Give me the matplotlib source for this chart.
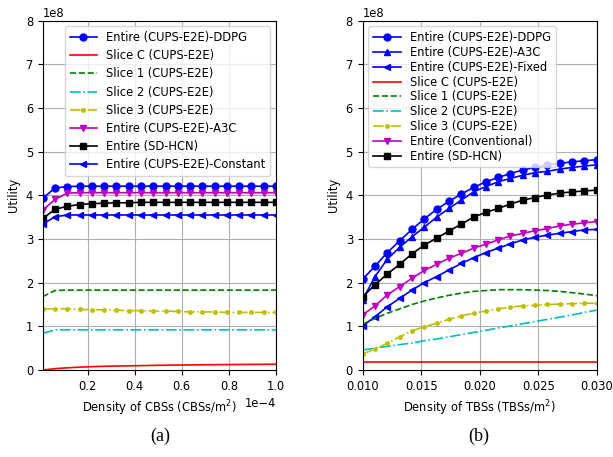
import matplotlib
matplotlib.use("Agg")
import matplotlib.pyplot as plt
import numpy as np

# ---- (a) utility vs. density of CBSs (values in 1e8) ----
cbs_density = np.linspace(1e-6, 1e-4, 20)
a_ddpg = [3.93, 4.17, 4.20, 4.21, 4.21, 4.21, 4.21, 4.21, 4.21, 4.21,
          4.21, 4.21, 4.21, 4.21, 4.21, 4.21, 4.21, 4.21, 4.21, 4.21]
a_slice_c = [0.0, 0.03, 0.05, 0.065, 0.075, 0.085, 0.09, 0.095, 0.10, 0.105,
             0.11, 0.113, 0.116, 0.119, 0.122, 0.124, 0.126, 0.128, 0.13, 0.132]
a_slice1 = [1.68, 1.82, 1.83, 1.83, 1.83, 1.83, 1.83, 1.83, 1.83, 1.83,
            1.83, 1.83, 1.83, 1.83, 1.83, 1.83, 1.83, 1.83, 1.83, 1.83]
a_slice2 = [0.84, 0.92, 0.92, 0.92, 0.92, 0.92, 0.92, 0.92, 0.92, 0.92,
            0.92, 0.92, 0.92, 0.92, 0.92, 0.92, 0.92, 0.92, 0.92, 0.92]
a_slice3 = [1.40, 1.40, 1.40, 1.39, 1.38, 1.38, 1.37, 1.36, 1.36, 1.35,
            1.35, 1.34, 1.33, 1.33, 1.33, 1.32, 1.32, 1.32, 1.32, 1.32]
a_a3c = [3.66, 3.91, 4.05, 4.06, 4.06, 4.06, 4.06, 4.06, 4.06, 4.06,
         4.06, 4.06, 4.06, 4.06, 4.06, 4.06, 4.06, 4.06, 4.06, 4.06]
a_sdhcn = [3.47, 3.68, 3.75, 3.79, 3.81, 3.82, 3.83, 3.83, 3.84, 3.84,
           3.84, 3.84, 3.84, 3.84, 3.84, 3.84, 3.84, 3.84, 3.84, 3.84]
a_constant = [3.34, 3.51, 3.55, 3.55, 3.55, 3.55, 3.55, 3.55, 3.55, 3.55,
              3.55, 3.55, 3.55, 3.55, 3.55, 3.55, 3.55, 3.55, 3.55, 3.55]

# ---- (b) utility vs. density of TBSs (values in 1e8) ----
tbs_density = np.linspace(0.01, 0.03, 20)
b_ddpg = [2.08, 2.38, 2.69, 2.96, 3.22, 3.46, 3.68, 3.86, 4.03, 4.18,
          4.31, 4.41, 4.50, 4.58, 4.64, 4.70, 4.73, 4.77, 4.79, 4.82]
b_a3c = [1.61, 2.14, 2.54, 2.81, 3.05, 3.27, 3.50, 3.70, 3.89, 4.08,
         4.20, 4.31, 4.39, 4.46, 4.52, 4.55, 4.60, 4.64, 4.67, 4.70]
b_fixed = [1.01, 1.22, 1.45, 1.64, 1.83, 2.00, 2.14, 2.29, 2.44, 2.57,
           2.69, 2.79, 2.89, 2.98, 3.04, 3.09, 3.13, 3.17, 3.21, 3.22]
b_slice_c = [0.19] * 20
b_slice1 = [1.05, 1.18, 1.30, 1.40, 1.50, 1.58, 1.65, 1.71, 1.76, 1.80,
            1.82, 1.84, 1.84, 1.84, 1.83, 1.82, 1.80, 1.77, 1.74, 1.70]
b_slice2 = [0.46, 0.50, 0.54, 0.58, 0.62, 0.67, 0.71, 0.76, 0.81, 0.86,
            0.91, 0.96, 1.01, 1.06, 1.11, 1.16, 1.21, 1.26, 1.32, 1.37]
b_slice3 = [0.37, 0.48, 0.61, 0.76, 0.90, 0.99, 1.07, 1.16, 1.24, 1.30,
            1.35, 1.40, 1.44, 1.47, 1.48, 1.50, 1.51, 1.52, 1.53, 1.53]
b_conventional = [1.26, 1.47, 1.72, 1.91, 2.10, 2.28, 2.42, 2.56, 2.67, 2.79,
                  2.88, 2.98, 3.07, 3.13, 3.19, 3.24, 3.30, 3.34, 3.37, 3.40]
b_sdhcn = [1.68, 1.95, 2.20, 2.42, 2.66, 2.86, 3.02, 3.18, 3.34, 3.50,
           3.61, 3.70, 3.80, 3.89, 3.95, 4.01, 4.05, 4.08, 4.10, 4.12]

SCALE = 1e8


def sc(v):
    return np.asarray(v) * SCALE


plt.rcParams["font.size"] = 8.3

fig = plt.figure(figsize=(6.13, 4.57), dpi=100)
ax1 = fig.add_axes([0.0697, 0.1904, 0.3806, 0.7643])
ax2 = fig.add_axes([0.5917, 0.1904, 0.3817, 0.7643])

lw, ms = 1.2, 5

# (a)
x = cbs_density
ax1.plot(x, sc(a_ddpg), "b-o", lw=lw, ms=ms, label="Entire (CUPS-E2E)-DDPG")
ax1.plot(x, sc(a_slice_c), "r-", lw=lw, label="Slice C (CUPS-E2E)")
ax1.plot(x, sc(a_slice1), "g--", lw=lw, label="Slice 1 (CUPS-E2E)")
ax1.plot(x, sc(a_slice2), "c-.", lw=lw, label="Slice 2 (CUPS-E2E)")
ax1.plot(x, sc(a_slice3), "y-.", marker=".", lw=lw, ms=ms, label="Slice 3 (CUPS-E2E)")
ax1.plot(x, sc(a_a3c), "m-v", lw=lw, ms=ms, label="Entire (CUPS-E2E)-A3C")
ax1.plot(x, sc(a_sdhcn), "k-s", lw=lw, ms=ms, label="Entire (SD-HCN)")
ax1.plot(x, sc(a_constant), "b-<", lw=lw, ms=ms, label="Entire (CUPS-E2E)-Constant")
ax1.set_xlim(1e-6, 1e-4)
ax1.set_ylim(0, 8e8)
ax1.ticklabel_format(axis="x", style="sci", scilimits=(0, 0))
ax1.set_xlabel("Density of CBSs (CBSs/m$^2$)")
ax1.set_ylabel("Utility")
ax1.grid(True, color="#b0b0b0", lw=0.8)
ax1.legend(loc="upper right", handlelength=2.4, labelspacing=0.45)

# (b)
x = tbs_density
ax2.plot(x, sc(b_ddpg), "b-o", lw=lw, ms=ms, label="Entire (CUPS-E2E)-DDPG")
ax2.plot(x, sc(b_a3c), "b-^", lw=lw, ms=ms, label="Entire (CUPS-E2E)-A3C")
ax2.plot(x, sc(b_fixed), "b-<", lw=lw, ms=ms, label="Entire (CUPS-E2E)-Fixed")
ax2.plot(x, sc(b_slice_c), "r-", lw=lw, label="Slice C (CUPS-E2E)")
ax2.plot(x, sc(b_slice1), "g--", lw=lw, label="Slice 1 (CUPS-E2E)")
ax2.plot(x, sc(b_slice2), "c-.", lw=lw, label="Slice 2 (CUPS-E2E)")
ax2.plot(x, sc(b_slice3), "y-.", marker=".", lw=lw, ms=ms, label="Slice 3 (CUPS-E2E)")
ax2.plot(x, sc(b_conventional), "m-v", lw=lw, ms=ms, label="Entire (Conventional)")
ax2.plot(x, sc(b_sdhcn), "k-s", lw=lw, ms=ms, label="Entire (SD-HCN)")
ax2.set_xlim(0.01, 0.03)
ax2.set_ylim(0, 8e8)
ax2.set_xlabel("Density of TBSs (TBSs/m$^2$)")
ax2.set_ylabel("Utility")
ax2.grid(True, color="#b0b0b0", lw=0.8)
ax2.legend(loc="upper left", handlelength=2.4, labelspacing=0.16)

fig.text(0.261, 0.045, "(a)", ha="center", va="center",
         family="Liberation Serif", fontsize=13)
fig.text(0.781, 0.045, "(b)", ha="center", va="center",
         family="Liberation Serif", fontsize=13)

fig.savefig("out.png", dpi=100)
print("Wrote out.png")
